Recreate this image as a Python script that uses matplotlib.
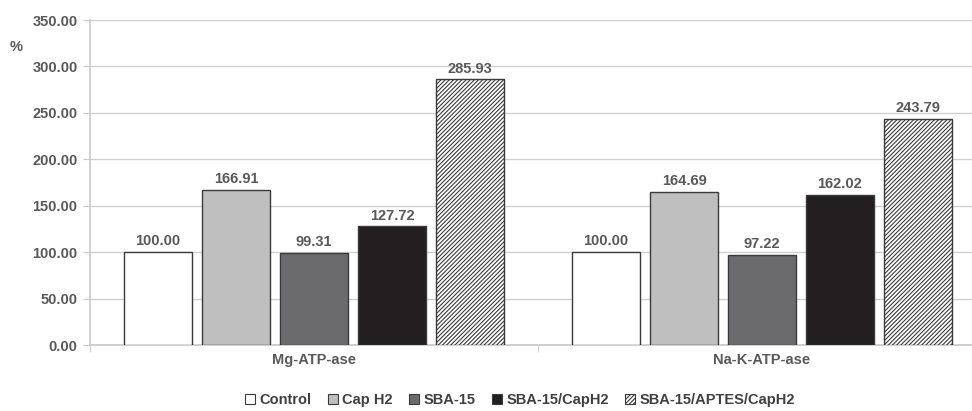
import numpy as np
import matplotlib
matplotlib.use("Agg")
from matplotlib import pyplot as plt

# data
groups = ["Mg-ATP-ase", "Na-K-ATP-ase"]
series = ["Control", "Cap H2", "SBA-15", "SBA-15/CapH2", "SBA-15/APTES/CapH2"]
control = [100.00, 100.00]
cap_h2 = [166.91, 164.69]
sba15 = [99.31, 97.22]
sba15_caph2 = [127.72, 162.02]
sba15_aptes_caph2 = [285.93, 243.79]
yticks = [0, 50, 100, 150, 200, 250, 300, 350]

values = [control, cap_h2, sba15, sba15_caph2, sba15_aptes_caph2]
colors = ["white", "#bfbfbf", "#6b6b6d", "#231f20", "white"]
hatches = [None, None, None, None, "////////"]

txt = "#595959"
fs = 10.5
plt.rcParams["font.family"] = "Liberation Sans"
plt.rcParams["hatch.linewidth"] = 0.8
plt.rcParams["hatch.color"] = "#2a2a2a"

fig = plt.figure(figsize=(9.72, 4.11), dpi=100)
ax = fig.add_axes([90 / 972, 66 / 411, 896 / 972, 325 / 411])

x = np.arange(len(groups))
width = 0.152
step = 0.174
for i, (name, vals) in enumerate(zip(series, values)):
    pos = x + (i - 2) * step
    bars = ax.bar(pos, vals, width, color=colors[i], edgecolor="#3a3a3a",
                  linewidth=1.0, hatch=hatches[i], label=name, zorder=3)
    for b, v in zip(bars, vals):
        ax.text(b.get_x() + b.get_width() / 2, v + 4, f"{v:.2f}", ha="center",
                va="bottom", fontsize=fs, fontweight="bold", color=txt)

ax.set_xlim(-0.5, 1.5)
ax.set_ylim(0, 350)
ax.set_yticks(yticks)
ax.set_yticklabels([f"{t:.2f}" for t in yticks], fontsize=fs,
                   fontweight="bold", color=txt)
ax.yaxis.grid(True, color="#d0d0d0", linewidth=1.0, zorder=0)
ax.tick_params(axis="y", length=5, color="#c8c8c8", pad=4)

ax.set_xticks(x)
ax.set_xticklabels(groups, fontsize=fs, fontweight="bold", color=txt)
ax.tick_params(axis="x", which="major", length=0, pad=6)
ax.set_xticks([-0.5, 0.5, 1.5], minor=True)
ax.tick_params(axis="x", which="minor", length=5, color="#c8c8c8")

for s in ["top", "right"]:
    ax.spines[s].set_visible(False)
for s in ["left", "bottom"]:
    ax.spines[s].set_color("#c8c8c8")
    ax.spines[s].set_linewidth(1.2)

fig.text(10 / 972, 1 - 47 / 411, "%", fontsize=fs, fontweight="bold",
         color=txt, va="center")

leg = fig.legend(loc="center", bbox_to_anchor=(520 / 972, 1 - 400 / 411), ncol=5,
                 frameon=False, fontsize=fs, handlelength=0.7, handleheight=0.7,
                 handletextpad=0.3, columnspacing=1.1)
for t in leg.get_texts():
    t.set_color("#404040")
    t.set_fontweight("bold")
for h in leg.legend_handles:
    h.set_linewidth(0.8)

fig.savefig("out.png", dpi=100)
